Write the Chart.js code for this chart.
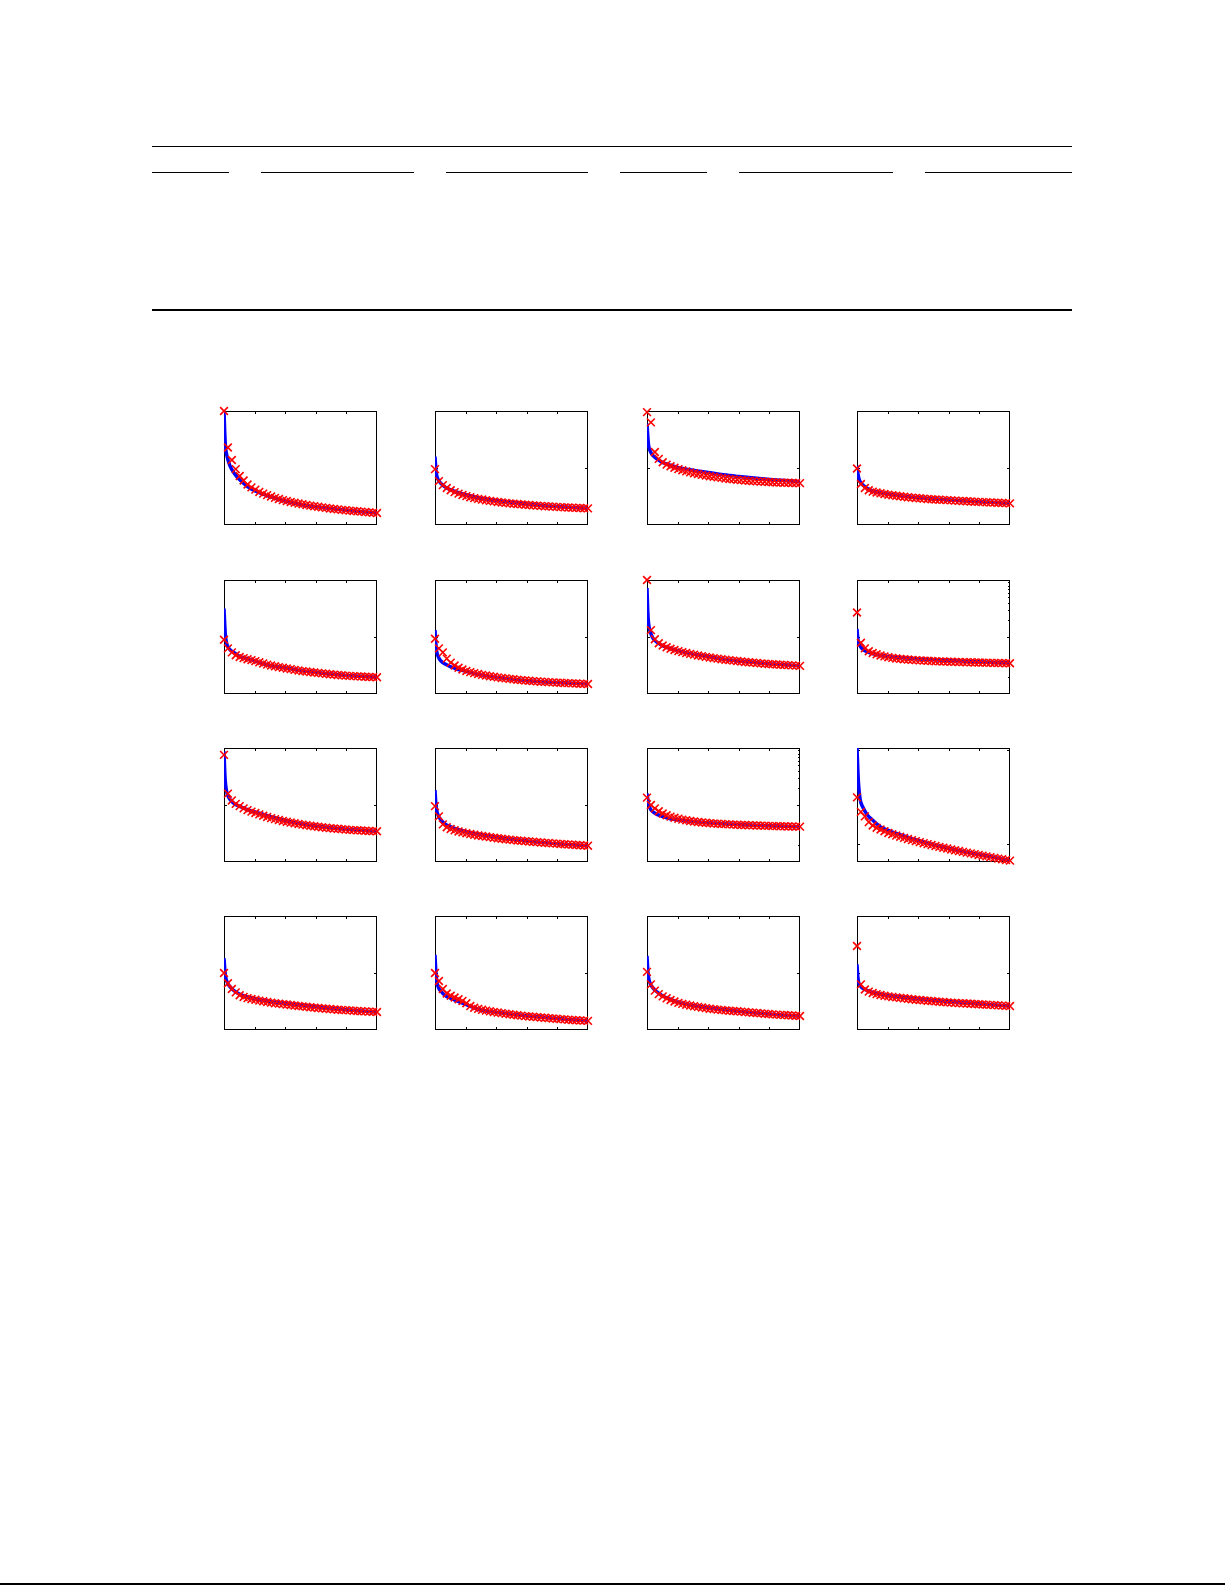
<!doctype html>
<html lang="en">
<head>
<meta charset="utf-8">
<title>Decay curves</title>
<script src="https://cdn.jsdelivr.net/npm/chart.js@4.4.0/dist/chart.umd.min.js"></script>
<style>
  body { margin: 0; background: #fff; }
  #page { position: relative; width: 1225px; height: 1585px; background: #fff; overflow: hidden; }
  .rule { position: absolute; background: #000; }
  #page canvas { position: absolute; }
</style>
</head>
<body>
<div id="page">
  <!-- empty table rules -->
  <div class="rule" style="left:152px;top:146px;width:920px;height:1px"></div>
  <div class="rule" style="left:152px;top:172px;width:77px;height:1px"></div>
  <div class="rule" style="left:261px;top:172px;width:153px;height:1px"></div>
  <div class="rule" style="left:446px;top:172px;width:142px;height:1px"></div>
  <div class="rule" style="left:620px;top:172px;width:87px;height:1px"></div>
  <div class="rule" style="left:739px;top:172px;width:154px;height:1px"></div>
  <div class="rule" style="left:925px;top:172px;width:147px;height:1px"></div>
  <div class="rule" style="left:152px;top:309px;width:920px;height:2px"></div>
  <div class="rule" style="left:0;top:1583px;width:1225px;height:2px"></div>
</div>

<script type="text/javascript">
// x positions: markers are iterations 0..39, the line is sampled finer at the start
var markerX = [0,1,2,3,4,5,6,7,8,9,10,11,12,13,14,15,16,17,18,19,20,21,22,23,24,25,26,27,28,29,30,31,32,33,34,35,36,37,38,39];
var lineX = [0,0.2,0.4,0.8,1.5,2.7,3.9,5.9,7.8,11.7,15.6,19.5,23.4,27.3,31.2,35.1,39];

// red crosses (fraction of axis height)
var r1c1Marks = [1.0,.68,.57,.49,.43,.39,.355,.33,.31,.29,.275,.262,.25,.238,.228,.218,.21,.202,.195,.188,.182,.176,.17,.165,.16,.155,.15,.145,.141,.137,.133,.13,.126,.123,.12,.117,.114,.111,.108,.105];
var r1c2Marks = [.49,.385,.35,.325,.305,.288,.275,.263,.253,.244,.236,.229,.223,.217,.212,.207,.202,.198,.194,.19,.187,.184,.181,.178,.175,.172,.17,.168,.165,.163,.161,.159,.157,.155,.153,.152,.15,.149,.147,.146];
var r1c3Marks = [.99,.90,.64,.58,.55,.53,.515,.502,.49,.48,.47,.462,.454,.447,.44,.434,.428,.423,.418,.413,.408,.404,.40,.397,.394,.391,.388,.385,.383,.381,.379,.377,.375,.373,.372,.371,.37,.369,.368,.367];
var r1c4Marks = [.496,.36,.325,.305,.293,.285,.278,.272,.266,.261,.256,.252,.248,.244,.24,.237,.234,.231,.228,.226,.224,.222,.22,.218,.216,.214,.212,.21,.208,.206,.204,.203,.201,.199,.198,.196,.195,.193,.192,.19];
var r2c1Marks = [.476,.40,.365,.34,.325,.315,.305,.297,.288,.278,.268,.258,.25,.243,.236,.23,.224,.218,.212,.206,.201,.197,.193,.189,.185,.181,.177,.173,.17,.167,.164,.161,.159,.157,.155,.153,.151,.149,.148,.147];
var r2c2Marks = [.485,.40,.365,.31,.275,.25,.23,.215,.202,.192,.183,.175,.168,.162,.156,.151,.146,.141,.137,.133,.129,.125,.122,.119,.116,.113,.111,.108,.106,.104,.102,.10,.098,.096,.095,.093,.092,.09,.089,.088];
var r2c3Marks = [1.0,.56,.48,.445,.425,.41,.397,.386,.376,.367,.359,.352,.345,.338,.332,.326,.32,.315,.31,.305,.301,.297,.293,.289,.285,.281,.278,.275,.272,.269,.266,.263,.261,.259,.257,.255,.253,.251,.249,.247];
var r2c4Marks = [.715,.45,.40,.375,.36,.348,.338,.33,.323,.317,.312,.308,.305,.302,.299,.297,.295,.293,.291,.289,.287,.286,.285,.284,.283,.282,.281,.28,.279,.278,.277,.276,.275,.274,.273,.272,.272,.271,.27,.27];
var r3c1Marks = [.94,.60,.54,.51,.49,.47,.455,.442,.43,.418,.406,.395,.385,.376,.368,.36,.353,.346,.34,.334,.328,.323,.318,.313,.309,.305,.301,.297,.294,.291,.288,.285,.282,.28,.278,.276,.274,.272,.271,.27];
var r3c2Marks = [.49,.40,.33,.305,.29,.278,.268,.26,.252,.245,.239,.233,.228,.223,.218,.213,.208,.204,.20,.196,.192,.189,.186,.183,.18,.177,.174,.171,.168,.166,.163,.161,.158,.156,.154,.152,.149,.147,.145,.143];
var r3c3Marks = [.565,.50,.47,.445,.425,.41,.398,.388,.38,.372,.366,.36,.355,.351,.347,.344,.341,.338,.336,.334,.332,.33,.328,.327,.325,.324,.323,.321,.32,.319,.318,.317,.316,.315,.314,.313,.312,.311,.31,.31];
var r3c4Marks = [.567,.44,.40,.35,.32,.30,.285,.27,.255,.243,.232,.222,.212,.202,.192,.183,.174,.165,.157,.149,.141,.133,.125,.118,.11,.103,.096,.089,.082,.076,.069,.062,.056,.049,.043,.036,.03,.024,.018,.012];
var r4c1Marks = [.50,.41,.36,.33,.305,.29,.28,.272,.265,.258,.252,.246,.24,.235,.231,.227,.223,.219,.215,.211,.207,.204,.20,.196,.193,.19,.187,.184,.181,.178,.176,.174,.172,.169,.167,.165,.163,.161,.16,.158];
var r4c2Marks = [.50,.43,.36,.32,.30,.285,.27,.255,.235,.21,.195,.185,.177,.17,.164,.158,.153,.148,.143,.138,.134,.13,.126,.122,.119,.116,.113,.11,.107,.104,.101,.098,.095,.093,.09,.088,.086,.084,.082,.08];
var r4c3Marks = [.51,.40,.345,.315,.295,.278,.263,.25,.238,.229,.222,.215,.209,.203,.197,.192,.187,.183,.179,.175,.172,.169,.167,.164,.161,.158,.155,.152,.149,.146,.143,.14,.137,.135,.133,.131,.129,.127,.125,.123];
var r4c4Marks = [.737,.40,.355,.337,.325,.315,.307,.30,.295,.29,.286,.282,.278,.274,.27,.266,.263,.26,.257,.254,.251,.248,.245,.242,.24,.238,.236,.234,.232,.23,.228,.226,.224,.222,.22,.218,.216,.214,.212,.21];

// blue curves
var r1c1Line = [1.0,.8,.68,.6,.52,.45,.40,.34,.30,.25,.21,.18,.16,.145,.13,.117,.105];
var r1c2Line = [.60,.50,.44,.40,.365,.33,.31,.285,.265,.235,.215,.2,.185,.172,.162,.153,.146];
var r1c3Line = [.89,.78,.70,.65,.61,.575,.55,.525,.505,.48,.46,.44,.425,.412,.40,.39,.38];
var r1c4Line = [.52,.46,.42,.38,.35,.32,.30,.285,.272,.255,.24,.23,.22,.212,.204,.197,.19];
var r2c1Line = [.75,.6,.5,.43,.39,.36,.33,.31,.29,.25,.23,.205,.19,.175,.163,.155,.147];
var r2c2Line = [.56,.45,.38,.33,.29,.26,.24,.215,.2,.168,.146,.13,.117,.107,.1,.094,.088];
var r2c3Line = [.93,.72,.62,.55,.49,.45,.425,.4,.38,.35,.33,.305,.29,.278,.265,.256,.248];
var r2c4Line = [.57,.49,.45,.42,.39,.37,.355,.34,.33,.318,.308,.30,.294,.288,.282,.276,.272];
var r3c1Line = [.97,.78,.68,.6,.55,.51,.49,.46,.44,.40,.365,.335,.315,.30,.288,.278,.27];
var r3c2Line = [.63,.52,.46,.41,.37,.33,.31,.285,.268,.24,.22,.2,.185,.172,.16,.151,.143];
var r3c3Line = [.60,.55,.51,.47,.44,.415,.40,.38,.37,.355,.345,.336,.329,.323,.318,.314,.31];
var r3c4Line = [1.0,.82,.68,.55,.48,.41,.37,.31,.28,.23,.19,.15,.12,.09,.065,.04,.012];
var r4c1Line = [.63,.53,.47,.42,.38,.34,.315,.29,.275,.25,.235,.22,.205,.19,.178,.167,.158];
var r4c2Line = [.66,.52,.44,.38,.34,.30,.28,.25,.225,.175,.155,.138,.125,.113,.1,.09,.08];
var r4c3Line = [.65,.53,.46,.41,.37,.33,.30,.27,.245,.215,.195,.18,.165,.152,.14,.13,.123];
var r4c4Line = [.576,.47,.42,.39,.365,.345,.33,.315,.303,.288,.275,.26,.25,.24,.23,.22,.21];

// tick marks (x in iterations, y in axis fraction)
var xTickVals = [7.8, 15.6, 23.4, 31.2];
var midTick = [0.5];
var noTick = [];
var lowTicks = [0.16, 0.985];
var logMinorTicks = [0.15, 0.65, 0.74, 0.8, 0.85, 0.89, 0.92, 0.95, 0.98];

var plotLefts = [224, 435, 647, 857];
var plotTops = [411, 580, 748, 916];
var plotW = 153, plotH = 114, pad = 10;

var plots = [
  [r1c1Marks, r1c1Line, noTick, noTick],
  [r1c2Marks, r1c2Line, midTick, noTick],
  [r1c3Marks, r1c3Line, midTick, noTick],
  [r1c4Marks, r1c4Line, midTick, noTick],
  [r2c1Marks, r2c1Line, midTick, noTick],
  [r2c2Marks, r2c2Line, midTick, noTick],
  [r2c3Marks, r2c3Line, midTick, noTick],
  [r2c4Marks, r2c4Line, midTick, logMinorTicks],
  [r3c1Marks, r3c1Line, midTick, noTick],
  [r3c2Marks, r3c2Line, midTick, noTick],
  [r3c3Marks, r3c3Line, midTick, logMinorTicks],
  [r3c4Marks, r3c4Line, lowTicks, noTick],
  [r4c1Marks, r4c1Line, midTick, noTick],
  [r4c2Marks, r4c2Line, midTick, noTick],
  [r4c3Marks, r4c3Line, midTick, noTick],
  [r4c4Marks, r4c4Line, midTick, noTick]
];

// axes box with inward ticks, MATLAB style
var framePlugin = {
  id: 'frame',
  beforeDatasetsDraw: function(chart, args, opts) {
    var ctx = chart.ctx, a = chart.chartArea;
    var xs = chart.scales.x, ys = chart.scales.y;
    var t = 3;
    ctx.save();
    ctx.strokeStyle = '#000';
    ctx.lineWidth = 1;
    ctx.strokeRect(a.left + 0.5, a.top + 0.5, a.right - a.left - 1, a.bottom - a.top - 1);
    ctx.beginPath();
    opts.xTicks.forEach(function(v) {
      var px = Math.round(xs.getPixelForValue(v)) + 0.5;
      ctx.moveTo(px, a.top); ctx.lineTo(px, a.top + t);
      ctx.moveTo(px, a.bottom); ctx.lineTo(px, a.bottom - t);
    });
    opts.yTicks.forEach(function(v) {
      var py = Math.round(ys.getPixelForValue(v)) + 0.5;
      ctx.moveTo(a.left, py); ctx.lineTo(a.left + t, py);
      ctx.moveTo(a.right, py); ctx.lineTo(a.right - t, py);
    });
    opts.yTicksRight.forEach(function(v) {
      var py = Math.round(ys.getPixelForValue(v)) + 0.5;
      ctx.moveTo(a.right, py); ctx.lineTo(a.right - 2, py);
    });
    ctx.stroke();
    ctx.restore();
  }
};

var page = document.getElementById('page');

plots.forEach(function(p, k) {
  var row = Math.floor(k / 4), col = k % 4;
  var cv = document.createElement('canvas');
  cv.width = plotW + 2 * pad;
  cv.height = plotH + 2 * pad;
  cv.style.left = (plotLefts[col] - pad) + 'px';
  cv.style.top = (plotTops[row] - pad) + 'px';
  page.appendChild(cv);

  var marks = p[0].map(function(y, i) { return { x: markerX[i], y: y }; });
  var line = p[1].map(function(y, i) { return { x: lineX[i], y: y }; });

  new Chart(cv.getContext('2d'), {
    type: 'line',
    data: {
      datasets: [{
        data: marks,
        showLine: false,
        borderColor: '#ff0000',
        backgroundColor: '#ff0000',
        pointStyle: 'crossRot',
        pointRadius: 5.5,
        pointBorderWidth: 1.6,
        clip: false,
        order: 0
      }, {
        data: line,
        borderColor: '#0000ff',
        borderWidth: 3.5,
        pointRadius: 0,
        cubicInterpolationMode: 'monotone',
        order: 1
      }]
    },
    options: {
      responsive: false,
      animation: false,
      events: [],
      layout: { padding: pad },
      scales: {
        x: { type: 'linear', min: 0, max: 39, display: false },
        y: { type: 'linear', min: 0, max: 1, display: false }
      },
      plugins: {
        legend: { display: false },
        tooltip: { enabled: false },
        frame: { xTicks: xTickVals, yTicks: p[2], yTicksRight: p[3] }
      }
    },
    plugins: [framePlugin]
  });
});
</script>
</body>
</html>
